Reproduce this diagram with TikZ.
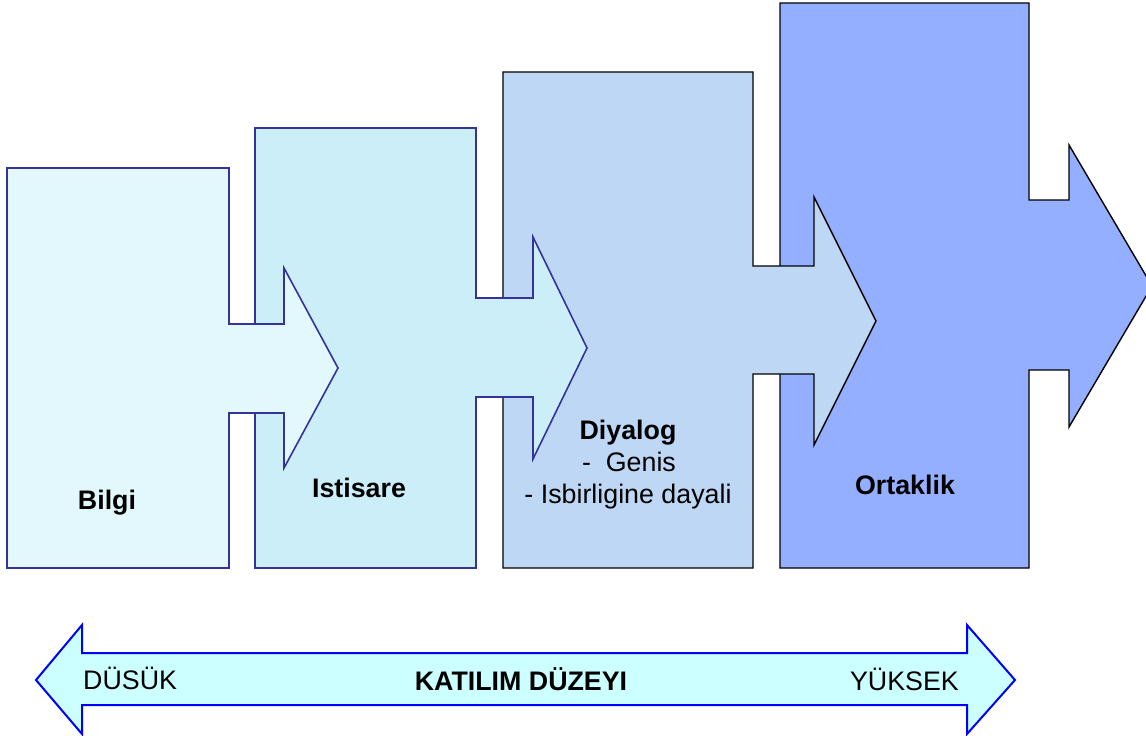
\documentclass[tikz,border=0pt]{standalone}
\usepackage{fontspec}
\setmainfont{Liberation Sans}
\definecolor{fillA}{RGB}{226,248,252}
\definecolor{fillB}{RGB}{204,238,248}
\definecolor{fillC}{RGB}{189,215,245}
\definecolor{fillD}{RGB}{148,175,255}
\definecolor{navy}{RGB}{51,51,153}
\definecolor{cyanfill}{RGB}{204,255,255}
\definecolor{arrowblue}{RGB}{0,0,255}
\tikzset{
  stageA/.style={fill=fillA, draw=navy, line width=1.6pt, line join=miter},
  stageB/.style={fill=fillB, draw=navy, line width=1.6pt, line join=miter},
  stageC/.style={fill=fillC, draw=black, line width=1.4pt, line join=miter},
  stageD/.style={fill=fillD, draw=black, line width=1.4pt, line join=miter},
  levelarrow/.style={fill=cyanfill, draw=arrowblue, line width=2pt, line join=miter},
  boldlabel/.style={font=\fontsize{26.8}{32}\selectfont\bfseries, inner sep=0pt, anchor=base},
  plainlabel/.style={font=\fontsize{26.8}{32}\selectfont, inner sep=0pt, anchor=base}
}
\begin{document}
\begin{tikzpicture}[x=1pt,y=-1pt]
\useasboundingbox (0,0) rectangle (1146,736);
% stage 4 (Ortaklik)
\draw[stageD] (780,3) -- (1029,3) -- (1029,200) -- (1069,200) -- (1069,145) -- (1152,286)
  -- (1069,427) -- (1069,370) -- (1029,370) -- (1029,568) -- (780,568) -- cycle;
% stage 3 (Diyalog)
\draw[stageC] (503,72) -- (753,72) -- (753,266) -- (814,266) -- (814,197) -- (876,321)
  -- (814,445) -- (814,374) -- (753,374) -- (753,568) -- (503,568) -- cycle;
% stage 2 (Istisare)
\draw[stageB] (255,128) -- (476,128) -- (476,298) -- (533,298) -- (533,237) -- (587,348)
  -- (533,459) -- (533,397) -- (476,397) -- (476,568) -- (255,568) -- cycle;
% stage 1 (Bilgi)
\draw[stageA] (7,168) -- (229,168) -- (229,324) -- (284,324) -- (284,268) -- (338,368)
  -- (284,468) -- (284,413) -- (229,413) -- (229,568) -- (7,568) -- cycle;
% stage labels
\node[boldlabel] (bilgi) at (107,509) {Bilgi};
\node[boldlabel] (istisare) at (359,497) {Istisare};
\node[boldlabel] (diyalog) at (628,439) {Diyalog};
\node[plainlabel] (genis) at (629,471) {-\ \ Genis};
\node[plainlabel] (isbirligi) at (628,503) {- Isbirligine dayali};
\node[boldlabel] (ortaklik) at (905,494) {Ortaklik};
% level double arrow
\draw[levelarrow] (36,680) -- (82,625) -- (82,653) -- (967,653) -- (967,625) -- (1015,680)
  -- (967,734) -- (967,705) -- (82,705) -- (82,734) -- cycle;
\node[plainlabel, anchor=base west] (dusuk) at (83,689) {DÜSÜK};
\node[boldlabel] (katilim) at (521,690) {KATILIM DÜZEYI};
\node[plainlabel, anchor=base east] (yuksek) at (959,690) {YÜKSEK};
\end{tikzpicture}
\end{document}
